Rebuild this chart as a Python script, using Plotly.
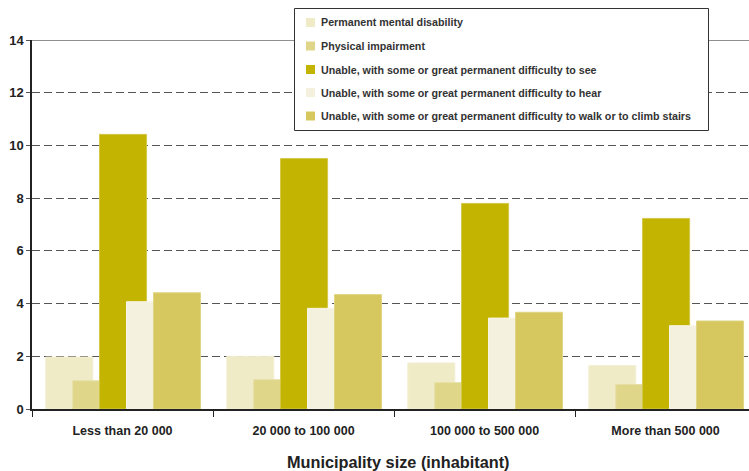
import plotly.graph_objects as go

categories = ["Less than 20 000", "20 000 to 100 000", "100 000 to 500 000", "More than 500 000"]
series_names = [
    "Permanent mental disability",
    "Physical impairment",
    "Unable, with some or great permanent difficulty to see",
    "Unable, with some or great permanent difficulty to hear",
    "Unable, with some or great permanent difficulty to walk or to climb stairs",
]
mental = [1.97, 2.0, 1.75, 1.65]
physical = [1.07, 1.11, 1.0, 0.93]
see = [10.42, 9.5, 7.8, 7.23]
hear = [4.07, 3.82, 3.45, 3.16]
walk = [4.41, 4.34, 3.67, 3.34]
values = [mental, physical, see, hear, walk]

colors = ["#F0EBC7", "#DFD68A", "#C2B400", "#F5F1DF", "#D6C85F"]
edge = ["#F3EFD5", "#E6DFA5", "#D3C84A", "#F8F5E8", "#E0D585"]
offsets = [-0.424, -0.275, -0.127, 0.022, 0.171]
width = 0.26

W, H = 749, 471
L, R, T, B = 32, 0, 40, 62
pw, ph = W - L - R, H - T - B


def px(x):
    return (x - L) / pw


def py(y):
    return (H - B - y) / ph


fig = go.Figure()
for i, (name, vals) in enumerate(zip(series_names, values)):
    fig.add_trace(go.Bar(
        x=categories, y=vals, name=name,
        offset=offsets[i], width=width,
        marker=dict(color=colors[i], line=dict(color=edge[i], width=1)),
        showlegend=False,
    ))

# top frame line at 14
fig.add_shape(type="line", xref="paper", yref="y", x0=0, x1=1, y0=14, y1=14,
              line=dict(color="#222222", width=1.2), layer="below")

# custom legend box
fig.add_shape(type="rect", xref="paper", yref="paper",
              x0=px(294.5), x1=px(708.5), y0=py(130.5), y1=py(8.5),
              line=dict(color="#333333", width=1), fillcolor="white", layer="above")
row_y = [22.5, 46, 69.5, 92.5, 116]
for i, name in enumerate(series_names):
    yc = row_y[i]
    fig.add_shape(type="rect", xref="paper", yref="paper",
                  x0=px(306), x1=px(315), y0=py(yc + 4.5), y1=py(yc - 4.5),
                  line=dict(width=0), fillcolor=colors[i], layer="above")
    fig.add_annotation(xref="paper", yref="paper", x=px(318.5), y=py(yc),
                       xanchor="left", yanchor="middle", showarrow=False,
                       text=name,
                       font=dict(size=10.7, family="Liberation Sans, Arial", color="#333333", weight="bold"))

# x axis title
fig.add_annotation(xref="paper", yref="paper", x=px(398), y=py(462),
                   xanchor="center", yanchor="middle", showarrow=False,
                   text="Municipality size (inhabitant)",
                   font=dict(size=16.3, family="Liberation Sans, Arial", color="#222222", weight="bold"))

fig.update_layout(
    width=W, height=H,
    margin=dict(l=L, r=R, t=T, b=B, autoexpand=False),
    paper_bgcolor="white", plot_bgcolor="white",
    barmode="overlay",
    font=dict(family="Liberation Sans, Arial", color="#222222"),
    showlegend=False,
    xaxis=dict(
        type="category", categoryorder="array", categoryarray=categories,
        range=[-0.5, 3.461], showgrid=False, zeroline=False, automargin=False,
        showline=True, linecolor="#222222", linewidth=1.5,
        ticks="outside", tickson="boundaries", ticklen=6, tickcolor="#222222",
        ticklabelstandoff=9,
        tickfont=dict(size=12.5, weight="bold", color="#222222"),
    ),
    yaxis=dict(
        range=[0, 14], dtick=2, showgrid=True, gridcolor="#555555", griddash="8px,4px", gridwidth=1,
        zeroline=False, showline=True, linecolor="#222222", linewidth=1.5, automargin=False,
        ticks="outside", ticklen=4, tickcolor="#555555",
        tickfont=dict(size=13, weight="bold", color="#222222"),
    ),
)

fig.write_html("out.html", config={"displayModeBar": False},
               post_script="document.body.style.margin='0';document.body.style.overflow='hidden';")
